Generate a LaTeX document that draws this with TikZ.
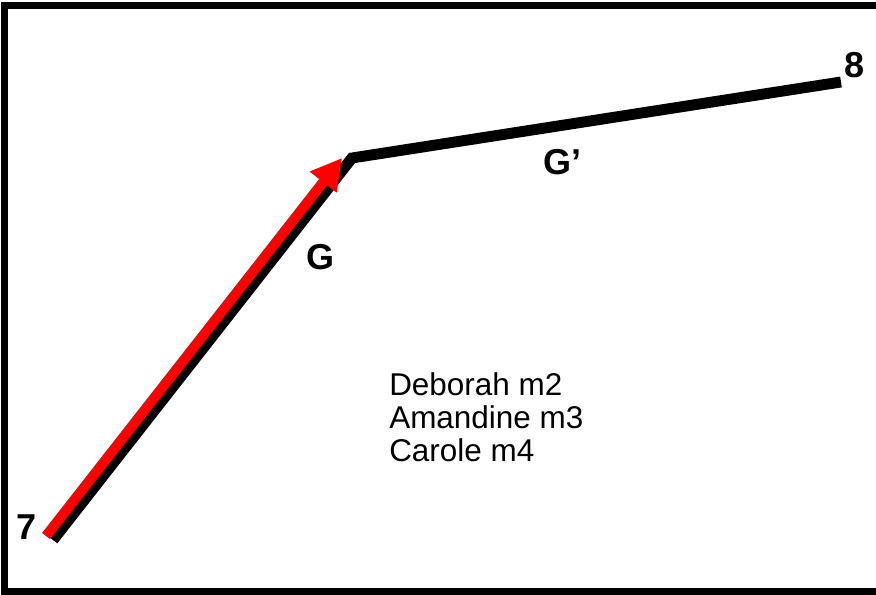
\documentclass[tikz,border=0pt]{standalone}
\usepackage{fontspec}
\setmainfont{Liberation Sans}
\usetikzlibrary{arrows.meta}
\tikzset{
  frame/.style={line width=5.5pt},
  blackpath/.style={line width=8.2pt, line join=miter, line cap=butt},
  redarrow/.style={red, line width=7.5pt, line cap=butt,
    -{Triangle[length=23pt, width=24pt]}},
  endlabel/.style={font=\fontsize{27}{30}\selectfont\bfseries, inner sep=0pt},
  names/.style={font=\fontsize{23.6}{24.75}\selectfont, align=left, inner sep=0pt, anchor=north west}
}
\begin{document}
\begin{tikzpicture}[x=0.75pt, y=-0.75pt]
  \useasboundingbox (0,0) rectangle (876,595);
  \clip (0,0) rectangle (876,595);
  % cadre
  \draw[frame] (4.5,5.5) rectangle (890,592);

  % points du trajet
  \coordinate (p7) at (53,540);
  \coordinate (apex) at (352,158);
  \coordinate (p8) at (841,82);

  % trajet G puis G'
  \draw[blackpath] (p7) -- (apex) -- (p8);
  \draw[redarrow] ([shift={(-7,-4)}]p7) -- ([shift={(-10,0)}]apex);

  % etiquettes
  \node[endlabel] (n7) at (27,527) {7};
  \node[endlabel] (n8) at (855,65) {8};
  \node[endlabel] (g) at (320,257) {G};
  \node[endlabel] (gp) at (562,162) {G’};
  \node[names] (noms) at (389,372) {Deborah m2\\Amandine m3\\Carole m4};
\end{tikzpicture}
\end{document}
